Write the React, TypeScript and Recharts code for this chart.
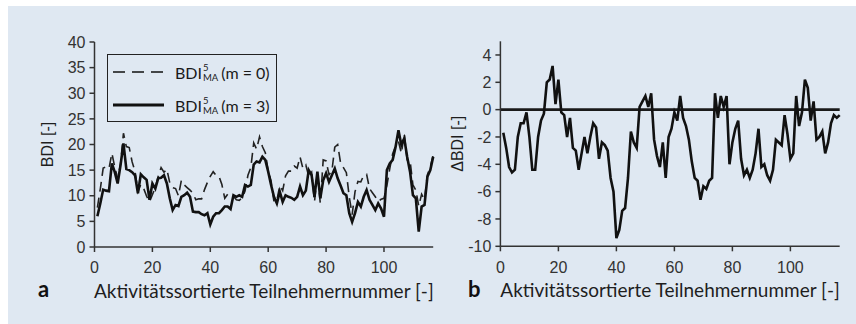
import React from "react";
import { LineChart, Line, XAxis, YAxis, ReferenceLine, Legend } from "recharts";

// BDI moving average, m = 0 (dashed)
const bdiM0 = [
  7.7, 11.3, 15.4, 15.6, 15.3, 18.3, 15.6, 13.4, 16.2, 22.2,
  19.6, 19.4, 16.6, 14.8, 10.8, 12.2, 11.4, 9.9, 8.8, 10.2,
  11.6, 13.8, 15.5, 14.6, 15.2, 12.5, 11.6, 11.4, 10.0, 13.0,
  12.1, 11.6, 11.1, 10.5, 9.2, 9.4, 9.4, 11.2, 12.6, 13.8,
  14.7, 14.0, 13.8, 12.2, 9.5, 10.3, 10.2, 9.9, 9.2, 9.1,
  9.6, 10.9, 14.0, 15.5, 20.3, 19.1, 21.5, 19.6, 18.4, 14.9,
  12.9, 8.8, 9.1, 12.0, 11.0, 13.9, 14.8, 14.8, 15.8, 15.4,
  17.6, 15.3, 16.0, 13.8, 14.6, 8.8, 14.5, 8.5, 17.0, 16.8,
  14.1, 14.8, 19.5, 20.0, 16.4, 15.5, 14.5, 9.8, 6.3, 10.8,
  12.8, 12.7, 14.0, 14.2, 11.4, 10.6, 9.8, 8.9, 9.3, 9.5,
  12.0, 15.3, 18.2, 19.7, 20.6, 18.3, 22.0, 17.0, 16.9, 12.1,
  11.1, 8.0, 10.3, 9.2, 14.1, 15.6, 18.0,
];

// BDI moving average, m = 3 (solid)
const bdiM3 = [
  6.0, 8.5, 11.2, 11.0, 10.9, 16.3, 14.6, 12.4, 16.0, 20.2,
  15.2, 15.0, 14.6, 14.0, 10.5, 14.2, 13.6, 13.1, 9.2, 12.4,
  11.4, 13.4, 13.5, 14.0, 12.4, 9.5, 7.2, 8.2, 8.0, 9.8,
  10.1, 10.6, 9.8, 6.9, 6.8, 6.8, 6.4, 6.2, 6.6, 4.4,
  5.9, 6.6, 6.6, 7.2, 7.9, 7.9, 7.4, 10.1, 9.8, 10.1,
  9.8, 12.1, 11.8, 12.1, 16.1, 16.7, 16.5, 17.6, 17.0, 14.7,
  12.1, 9.8, 8.5, 10.8, 8.8, 10.1, 9.8, 9.6, 9.2, 9.8,
  11.8, 10.1, 11.0, 15.0, 14.0, 9.8, 14.7, 9.5, 13.0, 14.4,
  12.7, 14.0, 15.3, 13.4, 12.0, 10.5, 10.1, 6.6, 4.9, 6.6,
  8.8, 7.9, 9.8, 11.1, 9.2, 8.2, 7.2, 8.5, 7.5, 5.9,
  15.0, 16.3, 17.0, 19.5, 22.8, 19.9, 21.2, 17.6, 14.7, 10.1,
  9.5, 3.0, 7.9, 8.2, 13.7, 15.0, 17.6,
];

// ΔBDI
const deltaBdi = [
  -1.7, -2.8, -4.2, -4.6, -4.4, -2.0, -1.0, -1.0, -0.2, -2.0,
  -4.4, -4.4, -2.0, -0.8, -0.3, 2.0, 2.2, 3.2, 0.4, 2.2,
  -0.2, -0.4, -2.0, -0.6, -2.8, -3.0, -4.4, -3.2, -2.0, -3.2,
  -2.0, -1.0, -1.3, -3.6, -2.4, -2.6, -3.0, -5.0, -6.0, -9.4,
  -8.8, -7.4, -7.2, -5.0, -1.6, -2.4, -2.8, 0.2, 0.6, 1.0,
  0.2, 1.2, -2.2, -3.4, -4.2, -2.4, -5.0, -2.0, -1.4, -0.2,
  -0.8, 1.0, -0.6, -1.2, -2.2, -3.8, -5.0, -5.2, -6.6, -5.6,
  -5.8, -5.2, -5.0, 1.2, -0.6, 1.0, 0.2, 1.0, -4.0, -2.4,
  -1.4, -0.8, -3.6, -4.8, -4.4, -5.0, -4.4, -3.2, -1.4, -4.2,
  -4.0, -4.8, -5.2, -4.4, -2.2, -2.4, -2.6, -0.4, -1.8, -3.6,
  -3.2, 1.0, -1.2, -0.2, 2.2, 1.6, -0.8, 0.6, -2.2, -2.0,
  -1.6, -3.2, -2.4, -1.0, -0.4, -0.6, -0.4,
];

const xTicks = [0, 20, 40, 60, 80, 100];
const bdiTicks = [0, 5, 10, 15, 20, 25, 30, 35, 40];
const deltaTicks = [-10, -8, -6, -4, -2, 0, 2, 4];
const xTitle = "Aktivitätssortierte Teilnehmernummer [-]";

const dataA = bdiM3.map((v, i) => ({ nr: i + 1, m0: bdiM0[i], m3: v }));
const dataB = deltaBdi.map((v, i) => ({ nr: i + 1, delta: v }));

const axisColor = "#333";
const tickStyle = { fill: "#333", fontSize: 16, fontFamily: "Liberation Sans, Arial, sans-serif" };
const titleStyle = { fill: "#1e1e1e", fontSize: 19, fontFamily: "Lato, sans-serif" };
const yTitleStyle = { fill: "#1e1e1e", fontSize: 16, fontFamily: "Liberation Sans, Arial, sans-serif" };

const legendItems = [
  { key: "m0", m: 0, width: 1.6, dash: "12 7" },
  { key: "m3", m: 3, width: 3, dash: undefined },
];

const LegendBox = () => (
  <div
    style={{
      width: 168,
      height: 66,
      border: "1px solid #222",
      position: "relative",
      fontFamily: "Lato, sans-serif",
      fontSize: 16,
      color: "#1a1a1a",
    }}
  >
    {legendItems.map((item, i) => (
      <div
        key={item.key}
        style={{
          position: "absolute",
          left: 5,
          top: 4 + i * 33,
          height: 26,
          display: "flex",
          alignItems: "center",
          whiteSpace: "nowrap",
        }}
      >
        <svg width={51} height={6} style={{ display: "block" }}>
          <line x1={0} x2={51} y1={3} y2={3} stroke="#111" strokeWidth={item.width} strokeDasharray={item.dash} />
        </svg>
        <span style={{ marginLeft: 11, display: "inline-flex", alignItems: "center" }}>
          <span>BDI</span>
          <span
            style={{
              display: "inline-flex",
              flexDirection: "column",
              fontSize: 9.5,
              lineHeight: "10px",
              margin: "1px 3px 0 1px",
            }}
          >
            <span>5</span>
            <span>MA</span>
          </span>
          <span>(m = {item.m})</span>
        </span>
      </div>
    ))}
  </div>
);

const App = () => {
  return (
    <div style={{ position: "absolute", left: 0, top: 0, width: 856, height: 324 }}>
      <div style={{ position: "absolute", left: 8, top: 6, width: 848, height: 318, background: "#dfe8f2" }} />

      <div style={{ position: "absolute", left: 0, top: 0 }}>
        <LineChart width={440} height={324} data={dataA} margin={{ top: 42, right: 6.8, left: 0, bottom: 22 }}>
          <XAxis
            dataKey="nr"
            type="number"
            domain={[0, 117]}
            ticks={xTicks}
            height={55}
            tickSize={5}
            tickMargin={10}
            tick={tickStyle}
            axisLine={{ stroke: axisColor, strokeWidth: 1.5 }}
            tickLine={{ stroke: axisColor, strokeWidth: 1.5 }}
            label={{ value: xTitle, position: "insideBottom", offset: 4, style: titleStyle }}
          />
          <YAxis
            type="number"
            domain={[0, 40]}
            ticks={bdiTicks}
            width={94.5}
            tickSize={5}
            tickMargin={4}
            tick={tickStyle}
            axisLine={{ stroke: axisColor, strokeWidth: 1.5 }}
            tickLine={{ stroke: axisColor, strokeWidth: 1.5 }}
            label={{ value: "BDI [-]", angle: -90, position: "center", style: yTitleStyle }}
          />
          <Legend
            layout="vertical"
            align="center"
            verticalAlign="middle"
            content={() => <LegendBox />}
            wrapperStyle={{ left: 107, top: 54, width: 170, height: 68 }}
          />
          <Line
            dataKey="m0"
            type="linear"
            stroke="#222"
            strokeWidth={1.6}
            strokeDasharray="10 6"
            dot={false}
            isAnimationActive={false}
          />
          <Line dataKey="m3" type="linear" stroke="#111" strokeWidth={2.6} dot={false} isAnimationActive={false} />
        </LineChart>
      </div>

      <div style={{ position: "absolute", left: 415.3, top: 0 }}>
        <LineChart width={440.7} height={324} data={dataB} margin={{ top: 41.3, right: 16, left: 0, bottom: 22 }}>
          <XAxis
            dataKey="nr"
            type="number"
            domain={[0, 117]}
            ticks={xTicks}
            height={55.7}
            tickSize={5}
            tickMargin={10}
            tick={tickStyle}
            axisLine={{ stroke: axisColor, strokeWidth: 1.5 }}
            tickLine={{ stroke: axisColor, strokeWidth: 1.5 }}
            label={{ value: xTitle, position: "insideBottom", offset: 4.7, style: titleStyle }}
          />
          <YAxis
            type="number"
            domain={[-10, 5]}
            ticks={deltaTicks}
            width={85.4}
            tickSize={5}
            tickMargin={4}
            tick={tickStyle}
            axisLine={{ stroke: axisColor, strokeWidth: 1.5 }}
            tickLine={{ stroke: axisColor, strokeWidth: 1.5 }}
            label={{ value: "ΔBDI [-]", angle: -90, position: "center", style: yTitleStyle }}
          />
          <ReferenceLine y={0} stroke="#1a1a1a" strokeWidth={2.6} />
          <Line dataKey="delta" type="linear" stroke="#111" strokeWidth={2.6} dot={false} isAnimationActive={false} />
        </LineChart>
      </div>

      <svg width={856} height={324} style={{ position: "absolute", left: 0, top: 0, pointerEvents: "none" }}>
        <text x={38} y={297} fontFamily="Lato, sans-serif" fontWeight="bold" fontSize={22} fill="#111">
          a
        </text>
        <text x={468} y={297} fontFamily="Lato, sans-serif" fontWeight="bold" fontSize={22} fill="#111">
          b
        </text>
      </svg>
    </div>
  );
};

export default App;
